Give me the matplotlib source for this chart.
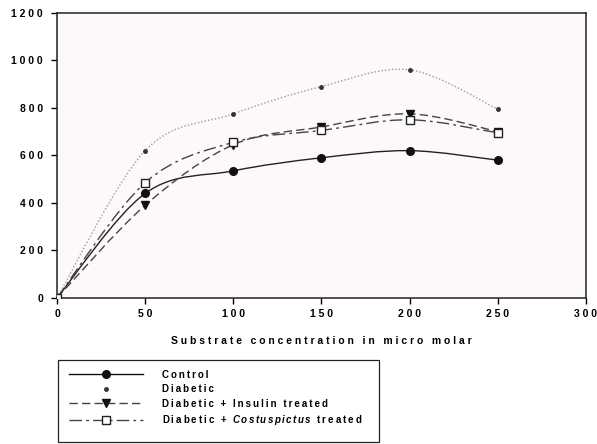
import numpy as np
import matplotlib.pyplot as plt
from matplotlib.path import Path
from matplotlib.patches import PathPatch, Rectangle
from matplotlib.lines import Line2D
from matplotlib.ticker import FuncFormatter

plt.rcParams['font.family'] = ['Liberation Sans', 'DejaVu Sans']
plt.rcParams['mathtext.fontset'] = 'custom'
plt.rcParams['mathtext.it'] = 'Liberation Sans:italic:bold'
plt.rcParams['mathtext.rm'] = 'Liberation Sans:bold'

# substrate concentration (micro molar) and activity per group
conc = [0, 50, 100, 150, 200, 250]
control = [0, 440, 535, 590, 620, 580]
diabetic = [0, 620, 775, 890, 960, 795]
insulin = [0, 390, 645, 720, 775, 700]
costus = [0, 485, 655, 705, 750, 695]


def spaced(s):
    # loose letter spacing, as in the printed figure
    return '\u2009'.join(s)


labels = [spaced('Control'), spaced('Diabetic'),
          spaced('Diabetic + Insulin treated'),
          spaced('Diabetic + ') + '\u2009$\\it{' + '\\,'.join('Costuspictus') + '}$\u2009'
          + spaced(' treated')]


def smooth_path(x, y, t=1.0 / 6):
    # Catmull-Rom style bezier through the points (like spreadsheet smoothing)
    x = np.asarray(x, float)
    y = np.asarray(y, float)
    verts = [(x[0], y[0])]
    codes = [Path.MOVETO]
    n = len(x)
    for i in range(n - 1):
        i0 = max(i - 1, 0)
        i3 = min(i + 2, n - 1)
        c1 = (x[i] + (x[i + 1] - x[i0]) * t, y[i] + (y[i + 1] - y[i0]) * t)
        c2 = (x[i + 1] - (x[i3] - x[i]) * t, y[i + 1] - (y[i3] - y[i]) * t)
        verts += [c1, c2, (x[i + 1], y[i + 1])]
        codes += [Path.CURVE4] * 3
    return Path(verts, codes)


fig = plt.figure(figsize=(5.97, 4.44), dpi=100)
fig.patch.set_facecolor('white')
ax = fig.add_axes([0.0955, 0.329, 0.886, 0.642])
ax.set_facecolor('#fcf8fb')

styles = [
    dict(color='#222222', ls='-', lw=1.0, marker='o', ms=5.5, mfc='#111111', mec='#111111'),
    dict(color='#9a9a9a', ls=(0, (1, 1.5)), lw=1.0, marker='o', ms=2.5, mfc='#333333', mec='#333333'),
    dict(color='#444444', ls=(0, (6, 3)), lw=1.0, marker='v', ms=5.5, mfc='#111111', mec='#111111'),
    dict(color='#444444', ls=(0, (9, 3, 2, 3)), lw=1.0, marker='s', ms=6, mfc='white', mec='#222222'),
]
series = [control, diabetic, insulin, costus]

handles = []
for k, (ys, st) in enumerate(zip(series, styles)):
    ax.add_patch(PathPatch(smooth_path(conc, ys), fill=False, edgecolor=st['color'],
                           linestyle=st['ls'], linewidth=st['lw'], zorder=2))
    ax.plot(conc, ys, linestyle='none', marker=st['marker'], markersize=st['ms'],
            markerfacecolor=st['mfc'], markeredgecolor=st['mec'], markeredgewidth=1.0, zorder=3)
    handles.append(Line2D([], [], color='#111111' if k == 0 else st['color'],
                          linestyle='none' if k == 1 else st['ls'],
                          lw=st['lw'], marker=st['marker'], markersize=st['ms'],
                          markerfacecolor=st['mfc'], markeredgecolor=st['mec']))

ax.set_xlim(0, 300)
ax.set_ylim(0, 1200)
ax.set_xticks([0, 50, 100, 150, 200, 250, 300])
ax.set_yticks([0, 200, 400, 600, 800, 1000, 1200])
spaced_num = FuncFormatter(lambda v, p: ' '.join('%d' % v))
ax.xaxis.set_major_formatter(spaced_num)
ax.yaxis.set_major_formatter(spaced_num)
ax.tick_params(axis='both', direction='out', length=4, width=1, labelsize=7.5, pad=4)
ax.tick_params(axis='y', pad=6)
for lab in ax.get_xticklabels() + ax.get_yticklabels():
    lab.set_fontweight('bold')
for s in ax.spines.values():
    s.set_linewidth(1.1)
    s.set_color('#222222')

ax.set_xlabel('S u b s t r a t e   c o n c e n t r a t i o n   i n   m i c r o   m o l a r',
              fontsize=7.5, fontweight='bold', labelpad=12)

# legend box under the plot
fig.patches.append(Rectangle((58 / 597, 1 - 442 / 444), 321 / 597, 82 / 444,
                             transform=fig.transFigure, fill=False,
                             edgecolor='#222222', linewidth=0.9))
leg = fig.legend(handles, labels, loc='upper left',
                 bbox_to_anchor=(62 / 597, 1 - 363 / 444), frameon=False,
                 prop={'size': 7, 'weight': 'bold'}, handlelength=7.6,
                 handletextpad=2.0, labelspacing=0.45, borderpad=0.2)

fig.savefig('out.png', dpi=100)
